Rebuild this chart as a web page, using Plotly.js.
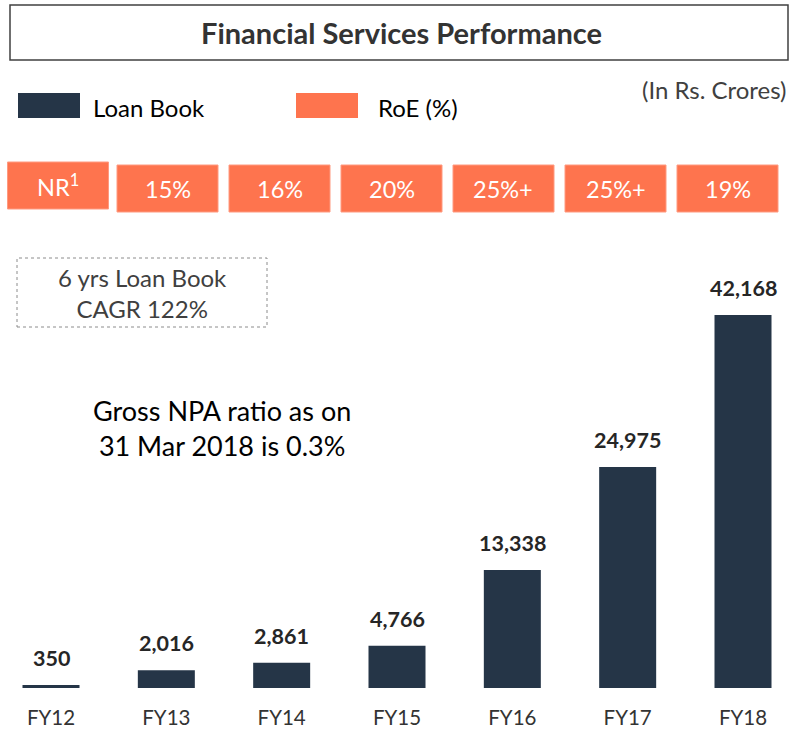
<!DOCTYPE html>
<html>
<head>
<meta charset="utf-8">
<script src="https://cdn.plot.ly/plotly-3.0.1.min.js"></script>
<style>html,body{margin:0;padding:0;background:#fff;}#chart{width:790px;height:730px;}</style>
</head>
<body>
<div id="chart"></div>
<script>
// ---- data ----
const categories = ["FY12", "FY13", "FY14", "FY15", "FY16", "FY17", "FY18"];
const loanBook = [350, 2016, 2861, 4766, 13338, 24975, 42168];
const roeLabels = ["NR<sup>1</sup>", "15%", "16%", "20%", "25%+", "25%+", "19%"];
const chartTitle = "Financial Services Performance";
const unitNote = "(In Rs. Crores)";
const cagrNote = "6 yrs Loan Book<br>CAGR 122%";
const npaNote = "Gross NPA ratio as on<br>31 Mar 2018 is 0.3%";
const legendNames = ["Loan Book", "RoE (%)"];

// ---- layout helpers ----
const W = 790, H = 730;
const M = {l: 0, r: 0, t: 230, b: 42};
const plotH = H - M.t - M.b;
const baseY = H - M.b;
const px = x => x / W;
const py = y => (baseY - y) / plotH;
const DARK = "#253547", ORANGE = "#FE744E";
const FONT = "Lato, 'Open Sans', sans-serif";

const maxVal = Math.max(...loanBook);
const yMax = maxVal * plotH / 373;

const fmt = v => v.toLocaleString("en-US");

const shapes = [];
const annotations = [];

// title box
shapes.push({type: "rect", xref: "paper", yref: "paper", x0: px(10), x1: px(788), y0: py(60), y1: py(5),
  line: {color: "#404040", width: 1.5}, fillcolor: "rgba(0,0,0,0)"});
annotations.push({xref: "paper", yref: "paper", x: px(401), y: py(33), text: "<b>" + chartTitle + "</b>",
  showarrow: false, font: {family: FONT, size: 29, color: "#333333"}, xanchor: "center", yanchor: "middle"});

// legend
shapes.push({type: "rect", xref: "paper", yref: "paper", x0: px(18), x1: px(80), y0: py(118), y1: py(93),
  line: {width: 0}, fillcolor: DARK});
annotations.push({xref: "paper", yref: "paper", x: px(91), y: py(107), text: legendNames[0], showarrow: false,
  font: {family: FONT, size: 24, color: "#000"}, xanchor: "left", yanchor: "middle"});
shapes.push({type: "rect", xref: "paper", yref: "paper", x0: px(296), x1: px(358), y0: py(118), y1: py(93),
  line: {width: 0}, fillcolor: ORANGE});
annotations.push({xref: "paper", yref: "paper", x: px(376), y: py(108), text: legendNames[1], showarrow: false,
  font: {family: FONT, size: 24, color: "#000"}, xanchor: "left", yanchor: "middle"});
annotations.push({xref: "paper", yref: "paper", x: px(789), y: py(89), text: unitNote, showarrow: false,
  font: {family: FONT, size: 24, color: "#404040"}, xanchor: "right", yanchor: "middle"});

// RoE boxes
const roeCenters = [58, 167.5, 279.5, 391.5, 503.5, 615.5, 727.5];
roeLabels.forEach((t, i) => {
  const c = roeCenters[i];
  const top = i === 0 ? 162 : 165;
  shapes.push({type: "rect", xref: "paper", yref: "paper", x0: px(c - 50.5), x1: px(c + 50.5),
    y0: py(top + 47), y1: py(top), line: {color: "#FF9A80", width: 1}, fillcolor: ORANGE});
  annotations.push({xref: "paper", yref: "paper", x: px(c), y: py(top + 23.5), text: t, showarrow: false,
    font: {family: FONT, size: 23.5, color: "#fff"}, xanchor: "center", yanchor: "middle"});
});

// CAGR dashed box
shapes.push({type: "rect", xref: "paper", yref: "paper", x0: px(17), x1: px(267), y0: py(327), y1: py(258),
  line: {color: "#8C8C8C", width: 1, dash: "dot"}, fillcolor: "rgba(0,0,0,0)"});
annotations.push({xref: "paper", yref: "paper", x: px(142), y: py(293), text: cagrNote, showarrow: false,
  font: {family: FONT, size: 24, color: "#404040"}, xanchor: "center", yanchor: "middle", align: "center"});

// NPA note
annotations.push({xref: "paper", yref: "paper", x: px(222), y: py(428), text: npaNote, showarrow: false,
  font: {family: FONT, size: 27, color: "#000"}, xanchor: "center", yanchor: "middle", align: "center"});

// value labels
categories.forEach((c, i) => {
  annotations.push({x: c, y: loanBook[i], xref: "x", yref: "y", text: "<b>" + fmt(loanBook[i]) + "</b>",
    showarrow: false, yanchor: "bottom", yshift: 12, font: {family: FONT, size: 21.5, color: "#262626"}});
});

// x range so category centers land at px 51 .. 743
const step = (743 - 51) / 6;
const xr = [-51 / step, (W - 51) / step];

const trace = {
  type: "bar", x: categories, y: loanBook, width: 57 / step,
  marker: {color: DARK, line: {width: 0}}, hoverinfo: "skip", showlegend: false
};

const layout = {
  width: W, height: H, margin: M,
  paper_bgcolor: "#fff", plot_bgcolor: "#fff",
  xaxis: {type: "category", range: xr, showgrid: false, zeroline: false, showline: false,
    ticks: "outside", ticklen: 11, tickcolor: "rgba(0,0,0,0)",
    tickfont: {family: FONT, size: 20.5, color: "#333"}},
  yaxis: {range: [0, yMax], visible: false, showgrid: false, zeroline: false},
  shapes: shapes, annotations: annotations, showlegend: false
};

Plotly.newPlot("chart", [trace], layout, {staticPlot: true});
</script>
</body>
</html>
